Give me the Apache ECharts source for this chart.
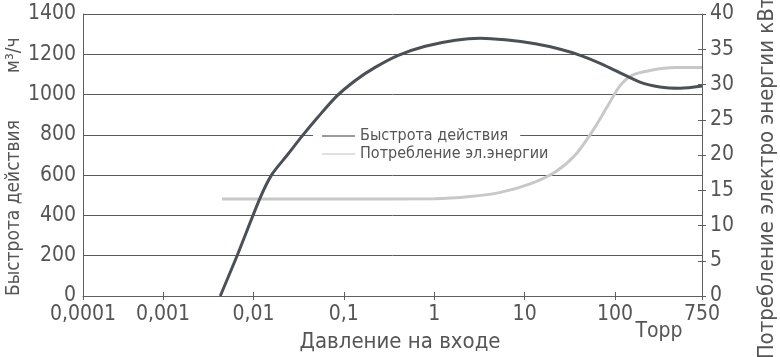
<!DOCTYPE html>
<html>
<head>
<meta charset="utf-8">
<script src="https://cdn.jsdelivr.net/npm/echarts@6/dist/echarts.min.js"></script>
<style>
html,body{margin:0;padding:0;background:#fff;}
#chart{width:780px;height:357px;}
</style>
</head>
<body>
<div id="chart"></div>
<script>
// ---- data (pressure in Torr) ----
const tickPressures = [0.0001, 0.001, 0.01, 0.1, 1, 10, 100, 750];
const tickLabels = ['0,0001', '0,001', '0,01', '0,1', '1', '10', '100', '750'];

const speedPressure = [0.0043, 0.0066, 0.0119, 0.0161, 0.0237, 0.0347, 0.0521, 0.0824, 0.134, 0.222, 0.40, 0.795, 1.71, 3.23, 6.1, 13.1, 24.8, 41.2, 68.5, 100, 178, 283, 451, 750];
const speedValues   = [0, 200, 488, 605, 700, 795, 890, 990, 1070, 1135, 1195, 1240, 1270, 1280, 1272, 1252, 1225, 1195, 1155, 1120, 1062, 1038, 1032, 1043];

const powerPressure = [0.0045, 0.1, 1, 2.5, 5.4, 11.5, 21.8, 36.3, 57, 81.6, 112, 148, 225, 401, 750];
const powerValues   = [13.75, 13.77, 13.8, 14.1, 14.7, 15.9, 17.6, 20.0, 23.5, 26.8, 29.8, 31.3, 32.0, 32.4, 32.4];

const speedName = 'Быстрота действия';
const powerName = 'Потребление эл.энергии';

// The original's pressure axis is logarithmic but with a shorter first decade and a
// stretched last segment (100..750); map pressures onto that scale.
function toAxis(p) {
  const l = Math.log10(p);
  if (l <= -3) return -3 + (l + 3) * 0.885;
  if (l <= 2) return l;
  return 2 + (l - 2) / Math.log10(7.5) * 0.962;
}
const tickAxis = tickPressures.map(toAxis);
function labelFor(v) {
  let best = 0, bd = Infinity;
  tickAxis.forEach((t, i) => { const d = Math.abs(t - v); if (d < bd) { bd = d; best = i; } });
  return tickLabels[best];
}

const FONT = '"DejaVu Sans Condensed", "DejaVu Sans", sans-serif';
const TXT = '#555';
const LINE = '#5f5f5f';

const chart = echarts.init(document.getElementById('chart'), null, {renderer: 'canvas'});
const xMin = toAxis(tickPressures[0]), xMax = toAxis(tickPressures[tickPressures.length - 1]);

chart.setOption({
  animation: false,
  backgroundColor: '#fff',
  textStyle: {fontFamily: FONT},
  grid: {left: 83, right: 78, top: 14, bottom: 61},
  xAxis: [{
    type: 'value', min: xMin, max: xMax,
    axisLine: {show: true, onZero: false, lineStyle: {color: LINE, width: 1}},
    axisTick: {show: true, inside: false, length: 4, customValues: tickAxis, lineStyle: {color: LINE}},
    axisLabel: {show: true, customValues: tickAxis, formatter: labelFor, fontSize: 21, color: TXT, margin: 8, fontFamily: FONT},
    splitLine: {show: false}
  }, {
    type: 'value', min: xMin, max: xMax, position: 'bottom',
    axisLine: {show: false, onZero: false},
    axisTick: {show: true, inside: true, length: 4, customValues: tickAxis, lineStyle: {color: LINE}},
    axisLabel: {show: false},
    splitLine: {show: false}
  }],
  yAxis: [{
    type: 'value', position: 'left', min: 0, max: 1400, interval: 200,
    axisLine: {show: true, onZero: false, lineStyle: {color: LINE, width: 1}},
    axisTick: {show: false},
    axisLabel: {fontSize: 21, color: TXT, margin: 7, fontFamily: FONT, formatter: v => String(v)},
    splitLine: {show: true, lineStyle: {color: '#5a5a5a', width: 1}}
  }, {
    type: 'value', position: 'right', min: 0, max: 40, interval: 5,
    axisLine: {show: true, onZero: false, lineStyle: {color: LINE, width: 1}},
    axisTick: {show: true, inside: false, length: 4, lineStyle: {color: LINE}},
    axisLabel: {fontSize: 21, color: TXT, margin: 8, fontFamily: FONT, formatter: v => String(v)},
    splitLine: {show: false}
  }, {
    type: 'value', position: 'right', min: 0, max: 40, interval: 5, offset: 0,
    axisLine: {show: false, onZero: false},
    axisTick: {show: true, inside: true, length: 4, lineStyle: {color: LINE}},
    axisLabel: {show: false},
    splitLine: {show: false}
  }],
  legend: [{
    data: [speedName], left: 313, top: 127, orient: 'vertical',
    backgroundColor: '#fff', padding: [1, 12, 1, 9],
    icon: 'rect', itemWidth: 33, itemHeight: 1.5,
    itemStyle: {color: '#7a7a7a', borderWidth: 0},
    textStyle: {fontSize: 16, color: TXT, fontFamily: FONT}
  }, {
    data: [powerName], left: 313, top: 145, orient: 'vertical',
    padding: [1, 12, 1, 9],
    icon: 'rect', itemWidth: 33, itemHeight: 1.5,
    itemStyle: {color: '#d6d6d6', borderWidth: 0},
    textStyle: {fontSize: 16, color: TXT, fontFamily: FONT}
  }],
  series: [{
    name: speedName, type: 'line', xAxisIndex: 0, yAxisIndex: 0,
    data: speedPressure.map((p, i) => [toAxis(p), speedValues[i]]),
    symbol: 'none', smooth: 0.25, z: 3,
    color: '#4b5057',
    lineStyle: {color: '#4b5057', width: 3}
  }, {
    name: powerName, type: 'line', xAxisIndex: 0, yAxisIndex: 1,
    data: powerPressure.map((p, i) => [toAxis(p), powerValues[i]]),
    symbol: 'none', smooth: 0.3, z: 2,
    color: '#c8c8c8',
    lineStyle: {color: '#c8c8c8', width: 3}
  }],
  graphic: [{
    type: 'text', x: 400, y: 342,
    style: {text: 'Давление на входе', font: '22px ' + FONT, fill: TXT, textAlign: 'center', textVerticalAlign: 'middle'}
  }, {
    type: 'text', x: 659, y: 332,
    style: {text: 'Торр', font: '21px ' + FONT, fill: TXT, textAlign: 'center', textVerticalAlign: 'middle'}
  }, {
    type: 'text', x: 14, y: 296, rotation: Math.PI / 2,
    style: {text: 'Быстрота действия', font: '19px ' + FONT, fill: TXT, textAlign: 'left', textVerticalAlign: 'middle'}
  }, {
    type: 'text', x: 14, y: 73, rotation: Math.PI / 2,
    style: {text: 'м³/ч', font: '19px ' + FONT, fill: TXT, textAlign: 'left', textVerticalAlign: 'middle'}
  }, {
    type: 'text', x: 767, y: 178, rotation: Math.PI / 2,
    style: {text: 'Потребление электро энергии кВт', font: '22px ' + FONT, fill: TXT, textAlign: 'center', textVerticalAlign: 'middle'}
  }]
});
</script>
</body>
</html>
